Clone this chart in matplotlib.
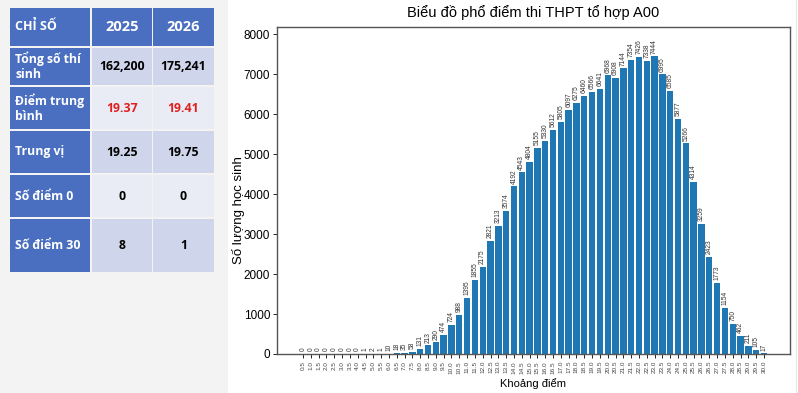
import matplotlib
matplotlib.use("Agg")
import matplotlib.pyplot as plt
from matplotlib.patches import Rectangle

# ---------------------------------------------------------------------------
# Data
# ---------------------------------------------------------------------------
SCORE_BINS = [f"{0.5 * i:.1f}" for i in range(1, 61)]
COUNTS = [
    0, 0, 0, 0, 0, 0, 0, 0, 1, 2,
    1, 10, 18, 35, 58, 131, 213, 290, 474, 724,
    988, 1395, 1855, 2175, 2821, 3213, 3574, 4192, 4543, 4804,
    5155, 5330, 5612, 5805, 6097, 6275, 6460, 6566, 6641, 6968,
    6908, 7144, 7354, 7426, 7338, 7444, 6995, 6585, 5877, 5266,
    4314, 3259, 2423, 1773, 1154, 750, 462, 211, 105, 17,
]

TABLE_HEADER = ["CHỈ SỐ", "2025", "2026"]
TABLE_LABELS = ["Tổng số thí\nsinh", "Điểm trung\nbình", "Trung vị", "Số điểm 0", "Số điểm 30"]
VALUES_2025 = ["162,200", "19.37", "19.25", "0", "8"]
VALUES_2026 = ["175,241", "19.41", "19.75", "0", "1"]

W, H = 798, 393
BLUE = "#4a6fc1"
CELL_DARK = "#cfd5ea"
CELL_LIGHT = "#e9ebf5"
RED = "#e0201c"
BAR = "#1f77b4"

fig = plt.figure(figsize=(W / 100, H / 100), dpi=100)


def px_rect(x0, y0, x1, y1, color):
    """Rectangle from pixel coords (top-left origin) in figure fraction."""
    fig.patches.append(Rectangle((x0 / W, 1 - y1 / H), (x1 - x0) / W, (y1 - y0) / H,
                                 transform=fig.transFigure, facecolor=color,
                                 edgecolor="none", zorder=0))


def px_text(x, y, s, **kw):
    fig.text(x / W, 1 - y / H, s, **kw)


# left panel background
px_rect(0, 0, 228, H, "#f3f3f3")
px_rect(796, 0, 797, H, "#e6e6e6")

# ---------------------------------------------------------------------------
# Table
# ---------------------------------------------------------------------------
col_edges = [(10, 90), (92, 152), (153, 214)]
row_edges = [(8, 46), (48, 85), (87, 129), (131, 173), (175, 217), (219, 272)]
tfont = dict(family=["Open Sans", "DejaVu Sans"], fontweight="bold")

for ci, (x0, x1) in enumerate(col_edges):
    px_rect(x0, row_edges[0][0], x1, row_edges[0][1], BLUE)
    xc = (x0 + x1) / 2
    if ci == 0:
        px_text(x0 + 5, sum(row_edges[0]) / 2, TABLE_HEADER[ci], color="white",
                fontsize=9, ha="left", va="center", **tfont)
    else:
        px_text(xc, sum(row_edges[0]) / 2, TABLE_HEADER[ci], color="white",
                fontsize=10.5, ha="center", va="center", **tfont)

for ri, (y0, y1) in enumerate(row_edges[1:]):
    yc = (y0 + y1) / 2
    shade = CELL_DARK if ri % 2 == 0 else CELL_LIGHT
    px_rect(col_edges[0][0], y0, col_edges[0][1], y1, BLUE)
    px_rect(col_edges[1][0], y0, col_edges[1][1], y1, shade)
    px_rect(col_edges[2][0], y0, col_edges[2][1], y1, shade)
    px_text(col_edges[0][0] + 5, yc, TABLE_LABELS[ri], color="white", fontsize=8.8,
            ha="left", va="center", linespacing=1.2, **tfont)
    vcol = RED if ri == 1 else "black"
    for (x0, x1), val in zip(col_edges[1:], (VALUES_2025[ri], VALUES_2026[ri])):
        px_text((x0 + x1) / 2, yc, val, color=vcol, fontsize=8.8,
                ha="center", va="center", **tfont)

# ---------------------------------------------------------------------------
# Histogram
# ---------------------------------------------------------------------------
plt.rcParams["font.family"] = ["Liberation Sans", "DejaVu Sans"]
ax = fig.add_axes([277 / W, 1 - 354 / H, (790 - 277) / W, (354 - 27) / H])
x = list(range(len(SCORE_BINS)))
ax.bar(x, COUNTS, width=0.82, color=BAR)
for xi, c in zip(x, COUNTS):
    ax.text(xi, c + 70, str(c), rotation=90, ha="center", va="bottom",
            fontsize=4.8, color="#333333")

ax.set_xticks(x)
ax.set_xticklabels(SCORE_BINS, rotation=90, fontsize=4.6, color="#444444")
ax.tick_params(axis="x", length=3, width=0.6, pad=2)
ax.tick_params(axis="y", labelsize=8.5, length=3, width=0.6, pad=2)
ax.set_xlim(-3.33, 62.33)
ax.set_ylim(0, 8180)
ax.set_yticks(range(0, 8001, 1000))
for sp in ax.spines.values():
    sp.set_color("#555555")
    sp.set_linewidth(1.0)

ax.set_title("Biểu đồ phổ điểm thi THPT tổ hợp A00", fontsize=10.5, pad=7)
ax.set_xlabel("Khoảng điểm", fontsize=8, labelpad=3)
ax.set_ylabel("Số lượng học sinh", fontsize=9.5)
ax.yaxis.set_label_coords(-0.063, 0.44)

fig.savefig("out.png", dpi=100)
